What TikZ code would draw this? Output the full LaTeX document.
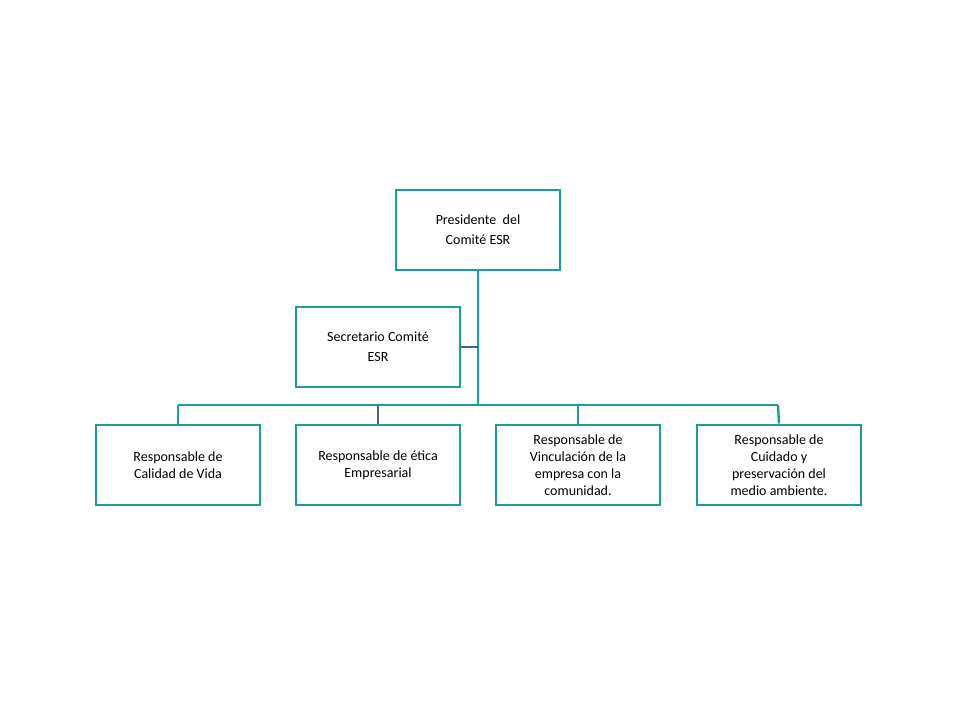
\documentclass[tikz,border=0pt]{standalone}
\usepackage{fontspec}
\setmainfont{Carlito}
\definecolor{teal1}{HTML}{16A09A}
\definecolor{slate}{HTML}{46648A}
\begin{document}
\begin{tikzpicture}[x=1pt,y=-1pt,
  box/.style={draw=teal1,line width=2.6pt,fill=white,minimum width=164pt,minimum height=80pt,align=center,font=\fontsize{14}{20}\selectfont,inner sep=2pt},
  conn/.style={draw=teal1,line width=2.4pt},
  conn2/.style={draw=slate,line width=2.4pt}]
\useasboundingbox (0,0) rectangle (960,720);
\coordinate (j) at (478,405);
\coordinate (jl) at (178,405);
\coordinate (jr) at (778,405);
\coordinate (s) at (478,347);
\draw[conn] (478,271) -- (j);
\draw[conn] (jl) -- (jr);
\draw[conn2] (461,347) -- (s);
\node[box] (p) at (478,230) {Presidente\ \ del\\Comité ESR};
\node[box] (sec) at (378,347) {Secretario Comité\\ESR};
\node[box,font=\fontsize{14}{17}\selectfont] (b1) at (178,465) {Responsable de\\Calidad de Vida};
\node[box,font=\fontsize{14}{17}\selectfont] (b2) at (378,465) {Responsable de ética\\Empresarial};
\node[box,font=\fontsize{14}{17}\selectfont] (b3) at (578,465) {Responsable de\\Vinculación de la\\empresa con la\\comunidad.};
\node[box,font=\fontsize{14}{17}\selectfont] (b4) at (779,465) {Responsable de\\Cuidado y\\preservación del\\medio ambiente.};
\draw[conn] (jl) -- (b1.north);
\draw[conn2] (378,405) -- (b2.north);
\draw[conn] (578,405) -- (b3.north);
\draw[conn] (jr) -- (b4.north);
\end{tikzpicture}
\end{document}
